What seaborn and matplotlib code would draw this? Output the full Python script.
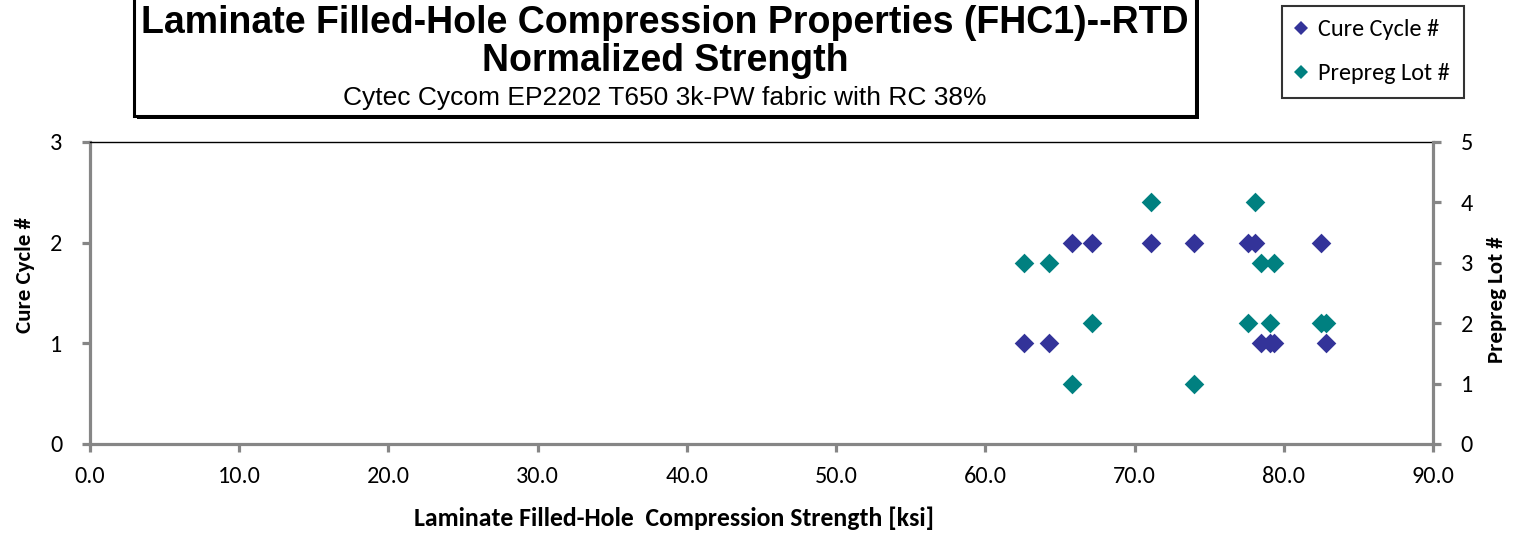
import matplotlib
matplotlib.use("Agg")
import matplotlib.pyplot as plt
from matplotlib import font_manager
from matplotlib.patches import Rectangle
from matplotlib.lines import Line2D
import seaborn as sns
import pandas as pd

# Filled-hole compression specimens: strength with cure cycle and prepreg lot ids
strength_ksi = [62.6, 64.3, 65.8, 67.15, 71.1, 74.0, 77.6, 78.1, 78.5, 79.1, 79.35, 82.5, 82.8]
cure_cycle = [1, 1, 2, 2, 2, 2, 2, 2, 1, 1, 1, 2, 1]
prepreg_lot = [3, 3, 1, 2, 4, 1, 2, 4, 3, 2, 3, 2, 2]

x_ticks = [0, 10, 20, 30, 40, 50, 60, 70, 80, 90]
left_ticks = [0, 1, 2, 3]
right_ticks = [0, 1, 2, 3, 4, 5]

title_line1 = "Laminate Filled-Hole Compression Properties (FHC1)--RTD"
title_line2 = "Normalized Strength"
subtitle = "Cytec Cycom EP2202 T650 3k-PW fabric with RC 38%"

df = pd.DataFrame({"strength": strength_ksi, "cure": cure_cycle, "lot": prepreg_lot})

installed = {f.name for f in font_manager.fontManager.ttflist}
def pick(*names):
    for n in names:
        if n in installed:
            return n
    return "DejaVu Sans"

title_font = pick("Liberation Sans Narrow", "Liberation Sans")
body_font = pick("Carlito", "Lato", "Open Sans")

sns.set_style("white")
plt.rcParams["font.family"] = [body_font, "DejaVu Sans"]
plt.rcParams.update({"text.color": "black", "axes.labelcolor": "black",
                     "xtick.labelcolor": "black", "ytick.labelcolor": "black"})

BLUE = "#333399"
TEAL = "#008080"
GRAY = "#868686"

fig = plt.figure(figsize=(15.22, 5.34), dpi=100)
W, H = 1522, 534
ax = fig.add_axes([90 / W, 1 - 444 / H, (1433 - 90) / W, (444 - 142) / H])
ax2 = ax.twinx()

sns.scatterplot(data=df, x="strength", y="cure", ax=ax, marker="D", s=100,
                color=BLUE, linewidth=0, zorder=3)
sns.scatterplot(data=df, x="strength", y="lot", ax=ax2, marker="D", s=100,
                color=TEAL, linewidth=0, zorder=3)

ax.set_xlim(0, 90)
ax.set_ylim(0, 3)
ax2.set_ylim(0, 5)
ax.set_xticks(x_ticks)
ax.set_xticklabels([f"{v:.1f}" for v in x_ticks])
ax.set_yticks(left_ticks)
ax2.set_yticks(right_ticks)

for a in (ax, ax2):
    for s in a.spines.values():
        s.set_visible(False)
ax.spines["left"].set_visible(True)
ax.spines["bottom"].set_visible(True)
ax.spines["top"].set_visible(True)
ax2.spines["right"].set_visible(True)
for a, side in ((ax, "left"), (ax, "bottom"), (ax2, "right")):
    a.spines[side].set_color(GRAY)
    a.spines[side].set_linewidth(2.3)
ax.spines["top"].set_color("black")
ax.spines["top"].set_linewidth(1.0)

tick_size = 17.5
ax.tick_params(axis="x", direction="out", length=6, width=2.3, color=GRAY,
               labelcolor="black", labelsize=tick_size, pad=10, bottom=True)
ax.tick_params(axis="y", direction="out", length=6, width=2.3, color=GRAY,
               labelcolor="black", labelsize=tick_size, pad=14, left=True)
ax2.tick_params(axis="y", direction="out", length=6, width=2.3, color=GRAY,
                labelcolor="black", labelsize=tick_size, pad=14, right=True)

ax.set_xlabel("Laminate Filled-Hole  Compression Strength [ksi]",
              fontsize=18.5, fontweight="bold", va="center", color="black")
ax.set_ylabel("Cure Cycle #", fontsize=16.5, fontweight="bold", va="center",
              color="black")
ax2.set_ylabel("Prepreg Lot #", fontsize=16.5, fontweight="bold", va="center",
               rotation=90, color="black")
ax.xaxis.set_label_coords((674 - 90) / 1343, (444 - 518) / 302)
ax.yaxis.set_label_coords((25 - 90) / 1343, (444 - 275) / 302)
ax2.yaxis.set_label_coords((1497 - 90) / 1343, (444 - 300) / 302)
ax.grid(False)
ax2.grid(False)

# Title box with a drop shadow
shadow = Rectangle((137 / W, 1 - 119 / H), (1062) / W, 130 / H, transform=fig.transFigure,
                   facecolor="black", edgecolor="none", zorder=0)
box = Rectangle((134 / W, 1 - 116 / H), (1062) / W, 130 / H, transform=fig.transFigure,
                facecolor="white", edgecolor="black", linewidth=2.2, zorder=1)
fig.patches.extend([shadow, box])

cx = 665 / W
fig.text(cx, 1 - 23 / H, title_line1, ha="center", va="center", fontsize=27,
         fontweight="bold", family=[title_font, "DejaVu Sans"], color="black", zorder=2)
fig.text(cx, 1 - 61 / H, title_line2, ha="center", va="center", fontsize=27,
         fontweight="bold", family=[title_font, "DejaVu Sans"], color="black", zorder=2)
fig.text(cx, 1 - 98 / H, subtitle, ha="center", va="center", fontsize=19,
         family=[title_font, "DejaVu Sans"], color="black", zorder=2)

handles = [
    Line2D([], [], marker="D", linestyle="none", color=BLUE, markersize=7,
           markeredgewidth=0),
    Line2D([], [], marker="D", linestyle="none", color=TEAL, markersize=7,
           markeredgewidth=0),
]
leg = fig.legend(handles, ["Cure Cycle #", "Prepreg Lot #"], loc="upper left",
                 bbox_to_anchor=(1282 / W, 1 - 6 / H), frameon=True, fancybox=False,
                 fontsize=17.5, labelspacing=0.95, handlelength=0.5, handletextpad=0.45,
                 borderpad=0.55, borderaxespad=0)
leg.get_frame().set_edgecolor("black")
leg.get_frame().set_linewidth(1.5)
for t in leg.get_texts():
    t.set_color("black")

fig.savefig("out.png", dpi=100)
